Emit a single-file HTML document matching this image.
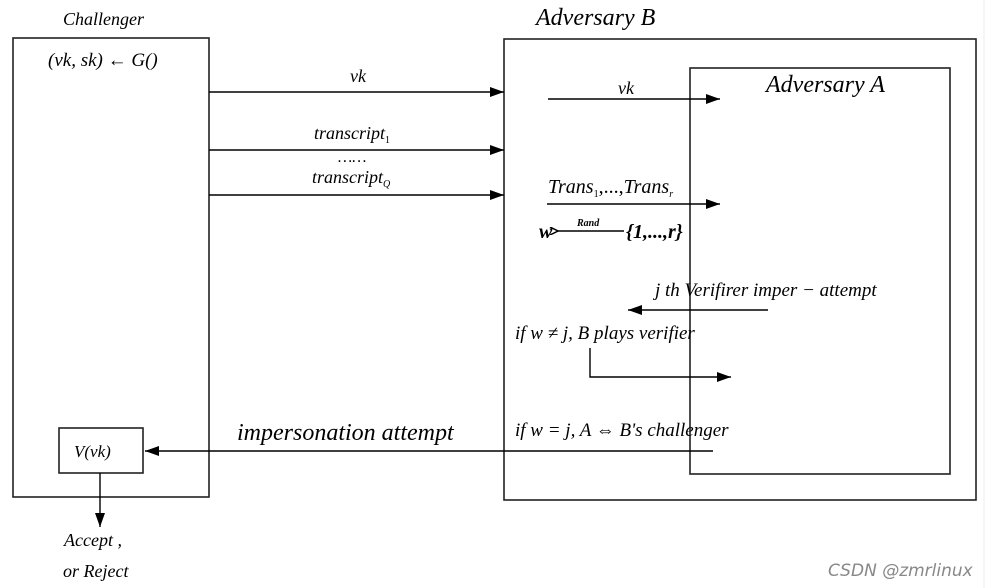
<!DOCTYPE html>
<html><head><meta charset="utf-8"><style>
html,body{margin:0;padding:0;background:#fff;width:995px;height:588px;overflow:hidden}
svg text{font-family:"Liberation Serif",serif;font-style:italic;fill:#000}
</style></head><body>
<svg width="995" height="588" viewBox="0 0 995 588" xmlns="http://www.w3.org/2000/svg">
<defs>
<marker id="a" markerWidth="14" markerHeight="10" refX="14" refY="5" orient="auto" markerUnits="userSpaceOnUse">
<path d="M0,0 L14,5 L0,10 z" fill="#000"/></marker>
<marker id="s" markerWidth="10" markerHeight="8" refX="1" refY="4" orient="auto" markerUnits="userSpaceOnUse">
<path d="M9,0 L1,4 L9,8" fill="none" stroke="#000" stroke-width="1.5"/></marker>
</defs>
<line x1="984" y1="0" x2="984" y2="588" stroke="#eee" stroke-width="1"/>
<g fill="none" stroke="#222" stroke-width="1.6">
<rect x="13" y="38" width="196" height="459"/>
<rect x="504" y="39" width="472" height="461"/>
<rect x="690" y="68" width="260" height="406"/>
<rect x="59" y="428" width="84" height="45"/>
</g>
<g stroke="#000" stroke-width="1.4" fill="none">
<line x1="209" y1="92" x2="504" y2="92" marker-end="url(#a)"/>
<line x1="209" y1="150" x2="504" y2="150" marker-end="url(#a)"/>
<line x1="209" y1="195" x2="504" y2="195" marker-end="url(#a)"/>
<line x1="548" y1="99" x2="720" y2="99" marker-end="url(#a)"/>
<line x1="547" y1="204" x2="720" y2="204" marker-end="url(#a)"/>
<line x1="624" y1="231" x2="558" y2="231" marker-end="url(#s)"/>
<line x1="768" y1="310" x2="628" y2="310" marker-end="url(#a)"/>
<polyline points="590,348 590,377 731,377" marker-end="url(#a)"/>
<line x1="713" y1="451" x2="145" y2="451" marker-end="url(#a)"/>
<line x1="100" y1="473" x2="100" y2="527" marker-end="url(#a)"/>
</g>
<text x="63" y="25" font-size="18">Challenger</text>
<text x="48" y="66" font-size="19" font-style="normal">(<tspan font-style="italic">vk</tspan>, <tspan font-style="italic">sk</tspan>) ← <tspan font-style="italic">G</tspan>()</text>
<text x="350" y="82" font-size="18">vk</text>
<text x="314" y="139" font-size="18">transcript<tspan font-size="10" dy="4" font-style="normal">1</tspan></text>
<text x="338" y="162" font-size="16" font-style="normal">……</text>
<text x="312" y="183" font-size="18">transcript<tspan font-size="10" dy="4">Q</tspan></text>
<text x="536" y="25" font-size="24">Adversary B</text>
<text x="766" y="92" font-size="24">Adversary A</text>
<text x="618" y="94" font-size="18">vk</text>
<text x="548" y="193" font-size="20">Trans<tspan font-size="10" dy="4" font-style="normal">1</tspan><tspan dy="-4" font-style="normal">,...,</tspan>Trans<tspan font-size="10" dy="4">r</tspan></text>
<text x="539" y="238" font-size="20" font-weight="bold">w</text>
<text x="577" y="226" font-size="10" font-weight="bold">Rand</text>
<text x="626" y="238" font-size="20" font-weight="bold" font-style="normal">{1,...,<tspan font-style="italic">r</tspan>}</text>
<text x="655" y="296" font-size="19">j th  Verifirer imper − attempt</text>
<text x="515" y="339" font-size="19">if  w ≠ j, B plays verifier</text>
<text x="515" y="436" font-size="19">if  w = j, A ⇔ B's challenger</text>
<text x="237" y="440" font-size="24">impersonation  attempt</text>
<text x="74" y="457" font-size="17" font-style="normal" font-family="Liberation Mono,monospace">V(vk)</text>
<text x="64" y="546" font-size="18">Accept ,</text>
<text x="63" y="577" font-size="18">or  Reject</text>
<text x="828" y="576" font-size="17" font-style="normal" style="font-family:'DejaVu Sans',sans-serif;fill:#888">CSDN @zmrlinux</text>
</svg>
</body></html>
